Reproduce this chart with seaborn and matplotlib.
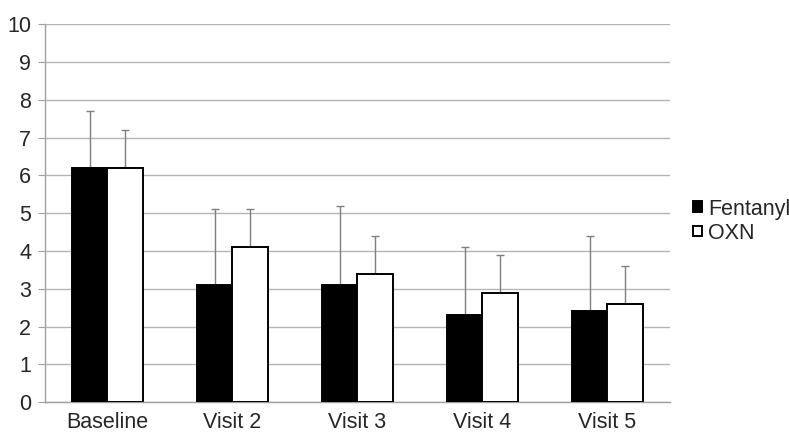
import pandas as pd
import matplotlib.pyplot as plt
import seaborn as sns
import numpy as np
from matplotlib.ticker import FixedLocator

# 数据
visits = ['Baseline', 'Visit 2', 'Visit 3', 'Visit 4', 'Visit 5']
fentanyl = [6.2, 3.1, 3.1, 2.3, 2.4]
fentanyl_err = [1.5, 2.0, 2.1, 1.8, 2.0]
oxn = [6.2, 4.1, 3.4, 2.9, 2.6]
oxn_err = [1.0, 1.0, 1.0, 1.0, 1.0]
groups = ['Fentanyl', 'OXN']

df = pd.DataFrame({
    'visit': visits * 2,
    'value': fentanyl + oxn,
    'group': ['Fentanyl'] * len(visits) + ['OXN'] * len(visits),
})
errs = {'Fentanyl': fentanyl_err, 'OXN': oxn_err}

sns.set_style('white')
plt.rcParams['font.family'] = ['Liberation Sans', 'DejaVu Sans']

fig = plt.figure(figsize=(7.89, 4.32), dpi=100)
ax = fig.add_axes([0.057, 0.069, 0.792, 0.875])

sns.barplot(data=df, x='visit', y='value', hue='group', hue_order=groups,
            palette=['black', 'white'], edgecolor='black', linewidth=1.4,
            width=0.57, errorbar=None, ax=ax, zorder=3)

# 误差线（只画上半部分）
for cont, g in zip(ax.containers, groups):
    xs = [p.get_x() + p.get_width() / 2 for p in cont]
    ys = [p.get_height() for p in cont]
    ax.errorbar(xs, ys, yerr=[np.zeros(len(xs)), errs[g]], fmt='none',
                ecolor='#7f7f7f', elinewidth=1, capsize=3, capthick=1, zorder=2)

ax.set_ylim(0, 10)
ax.set_xlim(-0.5, 4.5)
ax.set_yticks(range(0, 11))
ax.yaxis.grid(True, color='#b5b5b5', linewidth=1)
ax.set_axisbelow(True)
ax.set_xlabel('')
ax.set_ylabel('')

for s in ['top', 'right']:
    ax.spines[s].set_visible(False)
for s in ['left', 'bottom']:
    ax.spines[s].set_color('#a0a0a0')
    ax.spines[s].set_linewidth(1)

ax.tick_params(axis='x', which='major', length=0, labelsize=15.5, pad=7)
ax.xaxis.set_minor_locator(FixedLocator(np.arange(-0.5, 5, 1)))
ax.tick_params(axis='x', which='minor', length=5, color='#a0a0a0', direction='out')
ax.tick_params(axis='y', length=5, color='#a0a0a0', labelsize=15.5, left=True, pad=5)

ax.legend(loc='center left', bbox_to_anchor=(1.037, 0.479), frameon=False,
          borderaxespad=0, borderpad=0,
          fontsize=15.5, handlelength=0.4, handleheight=0.4, handletextpad=0.3,
          labelspacing=0.15)

plt.savefig('out.png', dpi=100)
